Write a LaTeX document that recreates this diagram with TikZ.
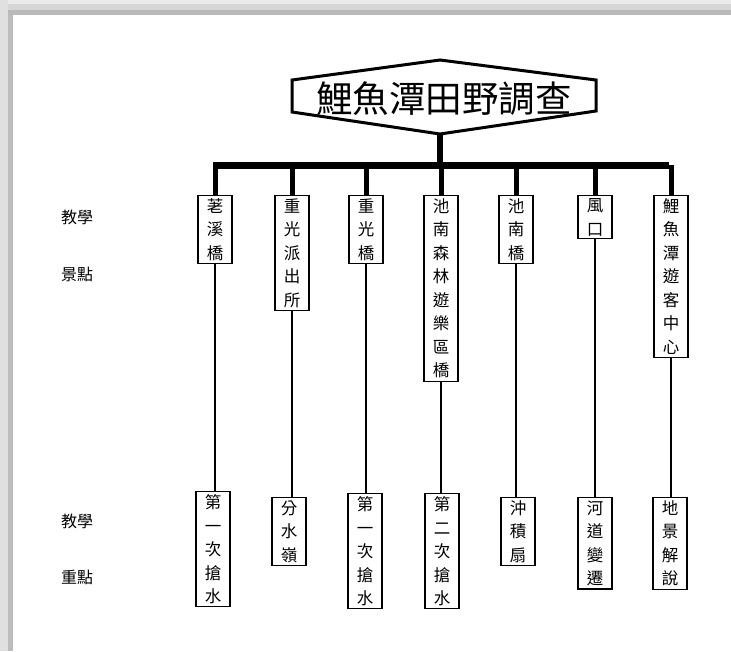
\documentclass[tikz,border=0pt]{standalone}
\usepackage{fontspec}
\newfontfamily\cjk{Noto Sans CJK TC}
\begin{document}
\begin{tikzpicture}[x=1pt,y=-1pt,
  tbox/.style={draw, line width=1.1pt, anchor=north, font=\cjk\fontsize{16.5}{23.5}\selectfont,
     align=center, inner xsep=0pt, inner ysep=3pt, minimum width=34pt, text width=34pt},
  lbl/.style={font=\cjk\fontsize{16}{18}\selectfont, inner sep=0pt},
  thick drop/.style={line width=5pt},
  thin link/.style={line width=1.2pt}]
\useasboundingbox (0,0) rectangle (731,651);
% frame shading
\fill[white] (0,0) rectangle (731,651);
\fill[black!8] (0,0) rectangle (731,4);
\fill[black!16] (0,4) rectangle (731,10);
\fill[black!27] (0,10) rectangle (731,15);
\fill[black!12] (0,0) rectangle (8,651);
\fill[black!26] (8,15) rectangle (13,651);
% title
\node[font=\cjk\fontsize{36.5}{40}\selectfont, inner sep=0pt] (title) at (444,99) {鯉魚潭田野調查};
\coordinate (hl1) at (292,80);
\coordinate (ht) at (440,60);
\coordinate (hr1) at (596,80);
\coordinate (hr2) at (596,111);
\coordinate (hb) at (440,134);
\coordinate (hl2) at (292,112);
\draw[line width=3pt, line join=miter] (hl1) -- (ht) -- (hr1) -- (hr2) -- (hb) -- (hl2) -- cycle;
% bar
\coordinate (barL) at (213,165);
\coordinate (barR) at (669,165);
\coordinate (barM) at (440,165);
\draw[line width=7pt] (barL) -- (barR);
\draw[line width=6pt] (hb) -- (barM);
% top boxes
\node[tbox] (t1) at (215,195) {荖\\溪\\橋};
\node[tbox] (t2) at (292,195) {重\\光\\派\\出\\所};
\node[tbox] (t3) at (366,195) {重\\光\\橋};
\node[tbox] (t4) at (441,195) {池\\南\\森\\林\\遊\\樂\\區\\橋};
\node[tbox] (t5) at (516,195) {池\\南\\橋};
\node[tbox] (t6) at (595,195) {風\\口};
\node[tbox] (t7) at (671,195) {鯉\\魚\\潭\\遊\\客\\中\\心};
% bottom boxes
\node[tbox] (b1) at (213,491) {第\\一\\次\\搶\\水};
\node[tbox] (b2) at (289,497) {分\\水\\嶺};
\node[tbox] (b3) at (365,493) {第\\一\\次\\搶\\水};
\node[tbox] (b4) at (442,493) {第\\二\\次\\搶\\水};
\node[tbox] (b5) at (518,497) {沖\\積\\扇};
\node[tbox] (b6) at (595,497) {河\\道\\變\\遷};
\node[tbox] (b7) at (670,497) {地\\景\\解\\說};
% drops
\foreach \i in {1,...,7}{
  \draw[thick drop] (barL -| t\i.north) -- (t\i.north);
  \draw[thin link] (t\i.south) -- (b\i.north -| t\i.south);
}
% left labels
\node[lbl] (l1) at (77,217) {教學};
\node[lbl] (l2) at (77,274) {景點};
\node[lbl] (l3) at (77,521) {教學};
\node[lbl] (l4) at (77,577) {重點};
\end{tikzpicture}
\end{document}
